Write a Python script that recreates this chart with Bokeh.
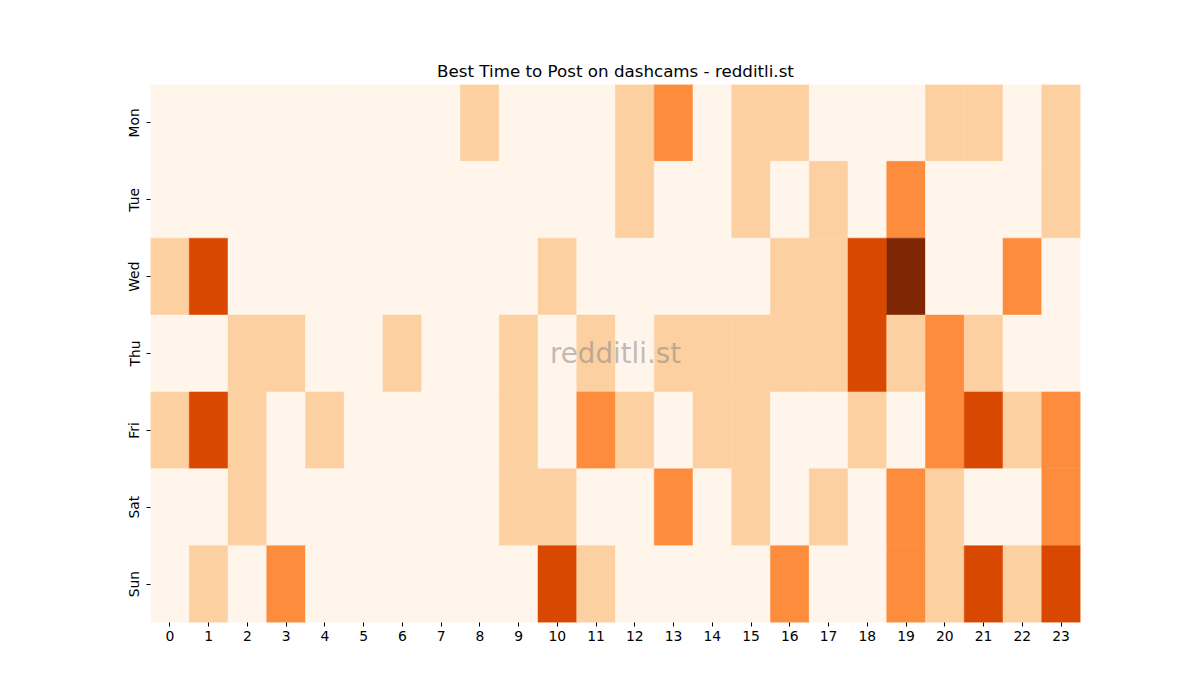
from bokeh.plotting import figure
from bokeh.models import ColumnDataSource, Range1d, FixedTicker, Label
from bokeh.embed import file_html
from bokeh.resources import INLINE

days = ["Mon", "Tue", "Wed", "Thu", "Fri", "Sat", "Sun"]
hours = [str(h) for h in range(24)]

mon = [0, 0, 0, 0, 0, 0, 0, 0, 1, 0, 0, 0, 1, 2, 0, 1, 1, 0, 0, 0, 1, 1, 0, 1]
tue = [0, 0, 0, 0, 0, 0, 0, 0, 0, 0, 0, 0, 1, 0, 0, 1, 0, 1, 0, 2, 0, 0, 0, 1]
wed = [1, 3, 0, 0, 0, 0, 0, 0, 0, 0, 1, 0, 0, 0, 0, 0, 1, 1, 3, 4, 0, 0, 2, 0]
thu = [0, 0, 1, 1, 0, 0, 1, 0, 0, 1, 0, 1, 0, 1, 1, 1, 1, 1, 3, 1, 2, 1, 0, 0]
fri = [1, 3, 1, 0, 1, 0, 0, 0, 0, 1, 0, 2, 1, 0, 1, 1, 0, 0, 1, 0, 2, 3, 1, 2]
sat = [0, 0, 1, 0, 0, 0, 0, 0, 0, 1, 1, 0, 0, 2, 0, 1, 0, 1, 0, 2, 1, 0, 0, 2]
sun = [0, 1, 0, 2, 0, 0, 0, 0, 0, 0, 3, 1, 0, 0, 0, 0, 2, 0, 0, 2, 1, 3, 1, 3]

palette = ["#fff5eb", "#fdd0a2", "#fd8d3c", "#d94801", "#7f2704"]

rows = [mon, tue, wed, thu, fri, sat, sun]
xs, ys, cols = [], [], []
for r, row in enumerate(rows):
    for c, v in enumerate(row):
        xs.append(c + 0.5)
        ys.append(r + 0.5)
        cols.append(palette[v])
src = ColumnDataSource(dict(x=xs, y=ys, color=cols))

p = figure(
    frame_width=930, frame_height=538,
    min_border_left=150, min_border_right=112,
    min_border_top=84, min_border_bottom=70,
    x_range=Range1d(0, 24), y_range=Range1d(7, 0),
    output_backend="svg", toolbar_location=None,
    title="Best Time to Post on dashcams - redditli.st",
)
p.rect(x="x", y="y", width=1, height=1, source=src,
       fill_color="color", line_color="color", line_width=0.5)

p.title.align = "center"
p.title.text_font = "DejaVu Sans"
p.title.text_font_size = "16.7px"
p.title.text_font_style = "normal"
p.title.text_color = "black"
p.title.standoff = 8

p.xaxis.ticker = FixedTicker(ticks=[i + 0.5 for i in range(24)])
p.xaxis.major_label_overrides = {i + 0.5: hours[i] for i in range(24)}
p.yaxis.ticker = FixedTicker(ticks=[i + 0.5 for i in range(7)])
p.yaxis.major_label_overrides = {i + 0.5: days[i] for i in range(7)}
p.yaxis.major_label_orientation = "vertical"

for ax in (p.xaxis, p.yaxis):
    ax.axis_line_color = None
    ax.minor_tick_line_color = None
    ax.major_tick_line_color = "black"
    ax.major_tick_out = 4
    ax.major_tick_in = 0
    ax.major_label_text_font = "DejaVu Sans"
    ax.major_label_text_font_size = "13.9px"
    ax.major_label_text_color = "black"
    ax.major_label_standoff = 4

p.xgrid.grid_line_color = None
p.ygrid.grid_line_color = None
p.outline_line_color = None

wm = Label(x=12, y=3.5, text="redditli.st", text_align="center",
           text_baseline="middle", text_font="DejaVu Sans",
           text_font_size="27.7px", text_color="gray", text_alpha=0.5)
p.add_layout(wm)

open("out.html", "w").write(file_html(p, INLINE))
